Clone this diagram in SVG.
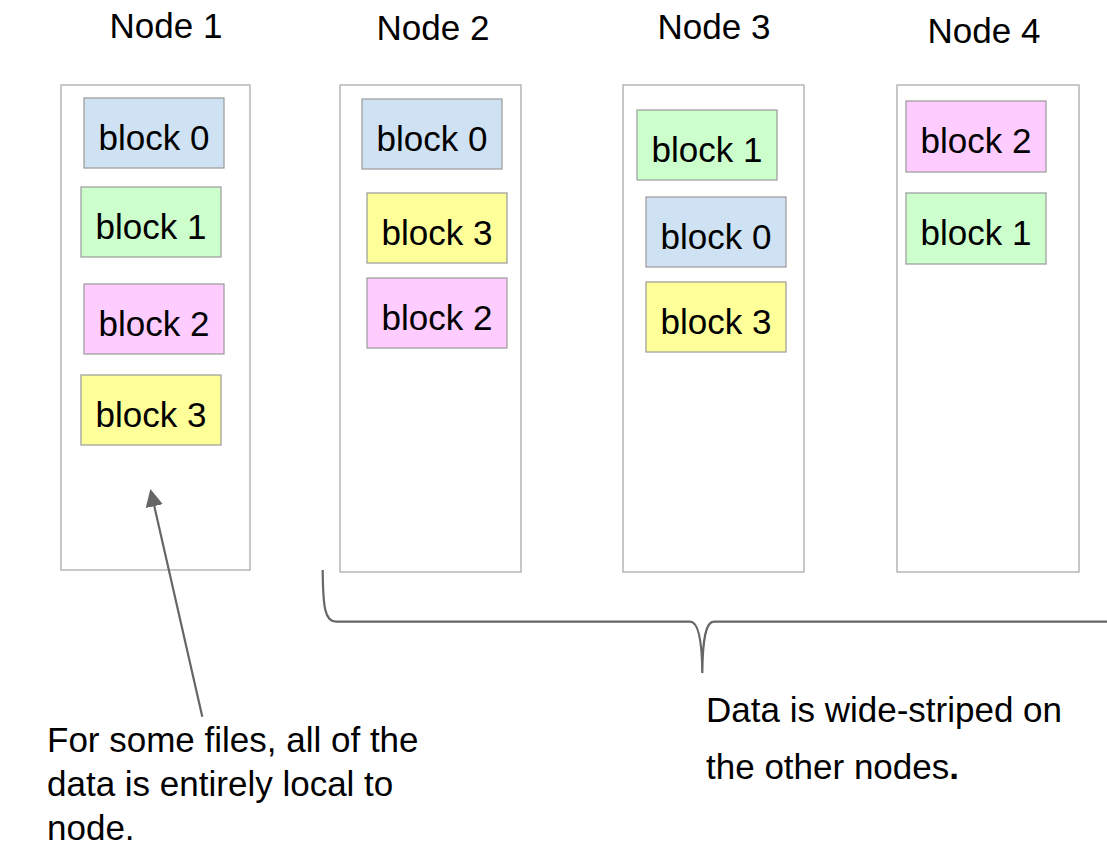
<svg xmlns="http://www.w3.org/2000/svg" width="1107" height="851" viewBox="0 0 1107 851">
  <style>
    text { font-family: "Liberation Sans", Arial, sans-serif; font-size: 35px; fill: #000; }
    .title { text-anchor: middle; }
    .lbl { text-anchor: middle; }
    .node { fill: #fff; stroke: #ababab; stroke-width: 1.3; }
    .blk { stroke: #999; stroke-width: 1.2; }
    .b0 { fill: #cfe2f3; }
    .b1 { fill: #ccffcc; }
    .b2 { fill: #ffccff; }
    .b3 { fill: #ffff99; }
    .conn { fill: none; stroke: #666; stroke-width: 2.2; }
  </style>
  <defs>
    <marker id="arrowhead" markerWidth="8" markerHeight="8" refX="1" refY="4" orient="auto" markerUnits="strokeWidth">
      <path d="M0,0 L8,4 L0,8 Z" fill="#666"/>
    </marker>
  </defs>
  <rect width="1107" height="851" fill="#fff"/>

  <g id="node1">
    <text class="title" x="166" y="38">Node 1</text>
    <rect class="node" x="61" y="85" width="189" height="485"/>
    <rect class="blk b0" x="84" y="98" width="140" height="70"/>
    <text class="lbl" x="154" y="150">block 0</text>
    <rect class="blk b1" x="81" y="187" width="140" height="70"/>
    <text class="lbl" x="151" y="239">block 1</text>
    <rect class="blk b2" x="84" y="284" width="140" height="70"/>
    <text class="lbl" x="154" y="336">block 2</text>
    <rect class="blk b3" x="81" y="375" width="140" height="70"/>
    <text class="lbl" x="151" y="427">block 3</text>
  </g>

  <g id="node2">
    <text class="title" x="433" y="40">Node 2</text>
    <rect class="node" x="340" y="85" width="181" height="487"/>
    <rect class="blk b0" x="362" y="99" width="140" height="70"/>
    <text class="lbl" x="432" y="151">block 0</text>
    <rect class="blk b3" x="367" y="193" width="140" height="70"/>
    <text class="lbl" x="437" y="245">block 3</text>
    <rect class="blk b2" x="367" y="278" width="140" height="70"/>
    <text class="lbl" x="437" y="330">block 2</text>
  </g>

  <g id="node3">
    <text class="title" x="714" y="39">Node 3</text>
    <rect class="node" x="623" y="85" width="181" height="487"/>
    <rect class="blk b1" x="637" y="110" width="140" height="70"/>
    <text class="lbl" x="707" y="162">block 1</text>
    <rect class="blk b0" x="646" y="197" width="140" height="70"/>
    <text class="lbl" x="716" y="249">block 0</text>
    <rect class="blk b3" x="646" y="282" width="140" height="70"/>
    <text class="lbl" x="716" y="334">block 3</text>
  </g>

  <g id="node4">
    <text class="title" x="984" y="43">Node 4</text>
    <rect class="node" x="897" y="85" width="182" height="487"/>
    <rect class="blk b2" x="906" y="101" width="140" height="71"/>
    <text class="lbl" x="976" y="153">block 2</text>
    <rect class="blk b1" x="906" y="193" width="140" height="71"/>
    <text class="lbl" x="976" y="245">block 1</text>
  </g>

  <g id="connectors">
    <!-- brace spanning nodes 2-4 -->
    <path class="conn" d="M322.7,570 C323,608 325,621.7 336,621.7 L690,621.7 C698,621.7 702,638 702.3,673 C702.6,638 706,621.7 714,621.7 L1107,621.7"/>
    <!-- pointer to node 1 -->
    <line class="conn" x1="202.3" y1="716.7" x2="153.8" y2="504" marker-end="url(#arrowhead)"/>
  </g>

  <g id="notes">
    <text x="47" y="752">For some files, all of the</text>
    <text x="47" y="796">data is entirely local to</text>
    <text x="47" y="840">node.</text>
    <text x="706" y="722">Data is wide-striped on</text>
    <text x="706" y="779">the other nodes<tspan font-weight="bold">.</tspan></text>
  </g>
</svg>
